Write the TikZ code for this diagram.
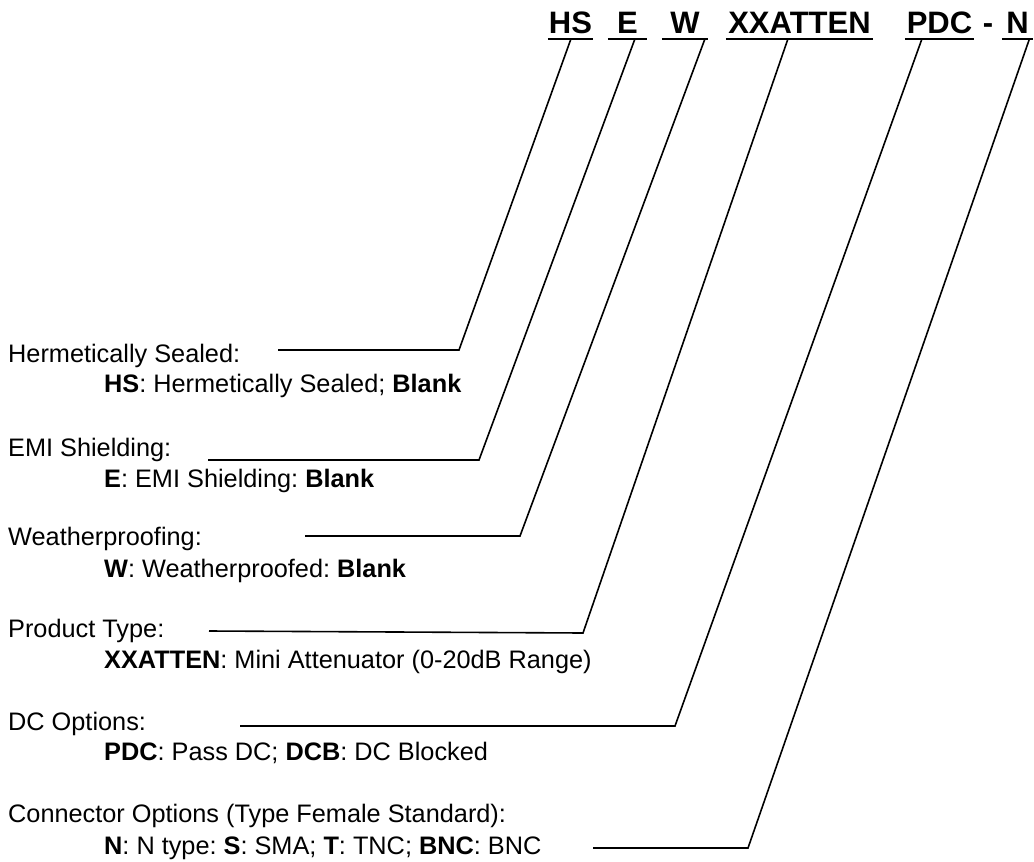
\documentclass[tikz,border=0pt]{standalone}
\usepackage{fontspec}
\setmainfont{Liberation Sans}
\usetikzlibrary{positioning}
\frenchspacing

\begin{document}
\begin{tikzpicture}[x=1pt, y=-1pt,
        code/.style={font=\bfseries\fontsize{31}{37}\selectfont, inner sep=0pt, text height=22pt, text depth=5.5pt, anchor=base},
        title/.style={font=\fontsize{25.3}{30}\selectfont, inner sep=0pt, anchor=base west},
        opt/.style={title},
        uline/.style={line width=1.6pt},
        lead/.style={line width=1.6pt}
    ]
        \useasboundingbox (0,0) rectangle (1034,862);

        % Part number, each code underlined
        \node[code, minimum width=45pt] (hs) at (570.5,33) {HS};
        \node[code, minimum width=39pt] (e) at (627.5,33) {E};
        \node[code, minimum width=46pt] (w) at (685,33) {W};
        \node[code, minimum width=147pt] (xx) at (799.5,33) {XXATTEN};
        \node[code, minimum width=69pt] (pdc) at (939.5,33) {PDC};
        \node[code] (dash) at (988,33) {-};
        \node[code, minimum width=31pt] (n) at (1017.5,33) {N};
        \draw[uline] (hs.south west) -- (hs.south east);
        \draw[uline] (e.south west) -- (e.south east);
        \draw[uline] (w.south west) -- (w.south east);
        \draw[uline] (xx.south west) -- (xx.south east);
        \draw[uline] (pdc.south west) -- (pdc.south east);
        \draw[uline] (n.south west) -- (n.south east);

        % Option fields
        \node[title] (hsT) at (8,362) {Hermetically Sealed:};
        \node[opt] (hsO) at (104,392) {\textbf{HS}: Hermetically Sealed; \textbf{Blank}};
        \node[title] (eT) at (8,456) {EMI Shielding:};
        \node[opt] (eO) at (104,487) {\textbf{E}: EMI Shielding: \textbf{Blank}};
        \node[title] (wT) at (8,545) {Weatherproofing:};
        \node[opt] (wO) at (104,577) {\textbf{W}: Weatherproofed: \textbf{Blank}};
        \node[title] (xxT) at (8,637) {Product Type:};
        \node[opt] (xxO) at (104,668) {\textbf{XXATTEN}: Mini Attenuator (0-20dB Range)};
        \node[title] (pdcT) at (8,730) {DC Options:};
        \node[opt] (pdcO) at (104,760) {\textbf{PDC}: Pass DC; \textbf{DCB}: DC Blocked};
        \node[title] (nT) at (8,822) {Connector Options (Type Female Standard):};
        \node[opt] (nO) at (104,854) {\textbf{N}: N type: \textbf{S}: SMA; \textbf{T}: TNC; \textbf{BNC}: BNC};

        % Leader lines from each field up to its code
        \coordinate (hsL) at (278,350);
        \coordinate (eL) at (208,460);
        \coordinate (wL) at (305,536);
        \coordinate (xxL) at (209,631);
        \coordinate (pdcL) at (240,726);
        \coordinate (nL) at (593,848);
        \draw[lead] (hsL) -- (459,350) -- ([xshift=0.5pt]hs.south);
        \draw[lead] (eL) -- (479,460) -- ([xshift=7.5pt]e.south);
        \draw[lead] (wL) -- (520,536) -- ([xshift=20pt]w.south);
        \draw[lead] (xxL) -- (583,633) -- ([xshift=-11.5pt]xx.south);
        \draw[lead] (pdcL) -- (675,726) -- ([xshift=-17.5pt]pdc.south);
        \draw[lead] (nL) -- (748,848) -- ([xshift=12pt]n.south);
    \end{tikzpicture}
\end{document}
